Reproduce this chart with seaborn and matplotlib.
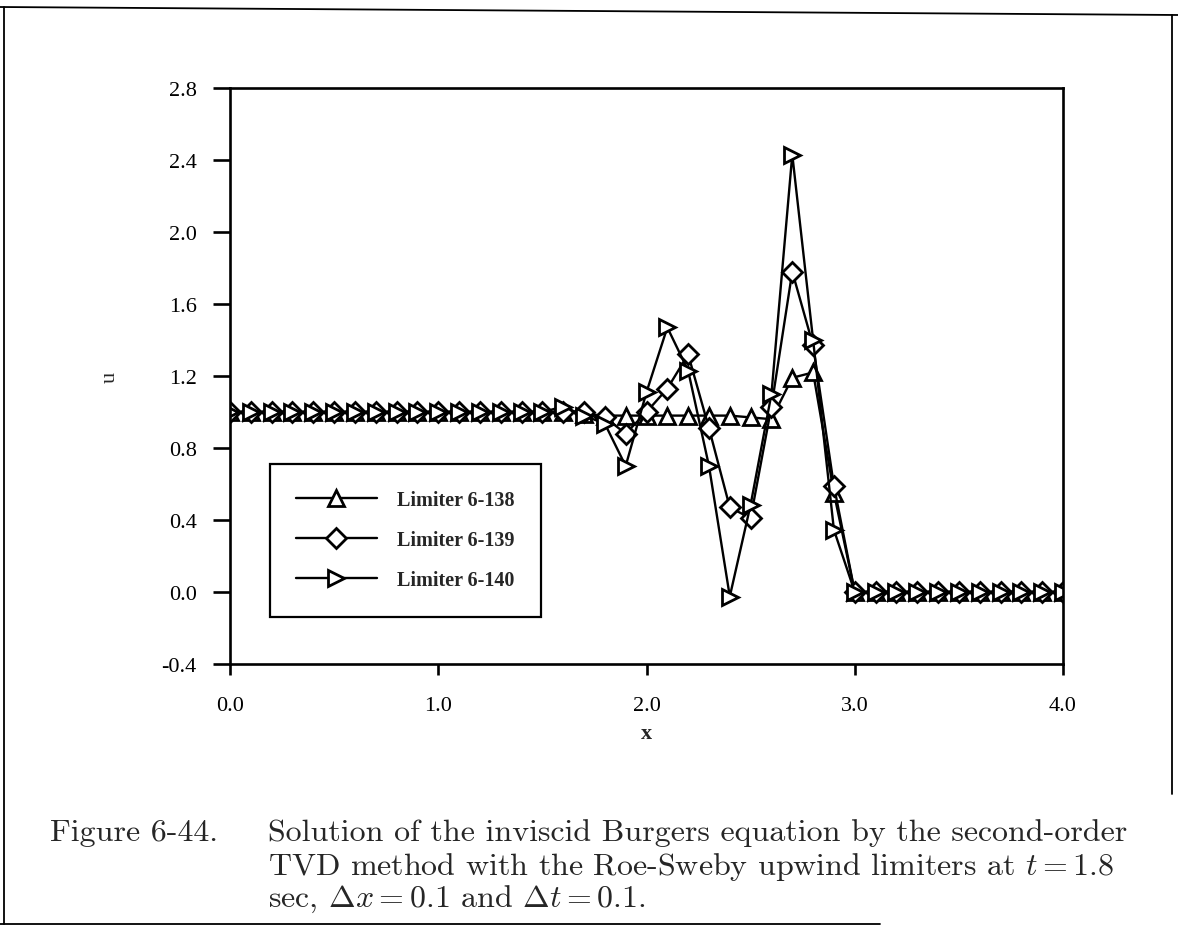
import matplotlib
matplotlib.use("Agg")
import matplotlib.pyplot as plt
import seaborn as sns
import pandas as pd
from matplotlib.lines import Line2D

# ---------------- data ----------------
x_vals = [0.0, 0.1, 0.2, 0.3, 0.4, 0.5, 0.6, 0.7, 0.8, 0.9,
          1.0, 1.1, 1.2, 1.3, 1.4, 1.5, 1.6, 1.7, 1.8, 1.9,
          2.0, 2.1, 2.2, 2.3, 2.4, 2.5, 2.6, 2.7, 2.8, 2.9,
          3.0, 3.1, 3.2, 3.3, 3.4, 3.5, 3.6, 3.7, 3.8, 3.9, 4.0]

u_138 = [1.0, 1.0, 1.0, 1.0, 1.0, 1.0, 1.0, 1.0, 1.0, 1.0,
         1.0, 1.0, 1.0, 1.0, 1.0, 1.0, 1.0, 0.99, 0.98, 0.98,
         0.98, 0.98, 0.98, 0.98, 0.98, 0.97, 0.96, 1.19, 1.22, 0.55,
         0.0, 0.0, 0.0, 0.0, 0.0, 0.0, 0.0, 0.0, 0.0, 0.0, 0.0]

u_139 = [1.0, 1.0, 1.0, 1.0, 1.0, 1.0, 1.0, 1.0, 1.0, 1.0,
         1.0, 1.0, 1.0, 1.0, 1.0, 1.0, 1.0, 1.0, 0.97, 0.88,
         1.0, 1.13, 1.32, 0.91, 0.47, 0.41, 1.03, 1.78, 1.37, 0.59,
         0.0, 0.0, 0.0, 0.0, 0.0, 0.0, 0.0, 0.0, 0.0, 0.0, 0.0]

u_140 = [1.0, 1.0, 1.0, 1.0, 1.0, 1.0, 1.0, 1.0, 1.0, 1.0,
         1.0, 1.0, 1.0, 1.0, 1.0, 1.0, 1.03, 0.98, 0.935, 0.70,
         1.11, 1.47, 1.23, 0.70, -0.025, 0.485, 1.10, 2.43, 1.40, 0.345,
         0.0, 0.0, 0.0, 0.0, 0.0, 0.0, 0.0, 0.0, 0.0, 0.0, 0.0]

series_labels = ["Limiter 6-138", "Limiter 6-139", "Limiter 6-140"]
series_markers = ["^", "D", ">"]

x_ticks = [0.0, 1.0, 2.0, 3.0, 4.0]
x_ticklabels = ["0.0", "1.0", "2.0", "3.0", "4.0"]
y_ticks = [-0.4, 0.0, 0.4, 0.8, 1.2, 1.6, 2.0, 2.4, 2.8]
y_ticklabels = ["-0.4", "0.0", "0.4", "0.8", "1.2", "1.6", "2.0", "2.4", "2.8"]

caption_head = "Figure 6-44."
caption_lines = [
    "Solution of the inviscid Burgers equation by the second-order",
    "TVD method with the Roe-Sweby upwind limiters at $t = 1.8$",
    "sec, $\\Delta x = 0.1$ and $\\Delta t = 0.1$.",
]

# ---------------- style ----------------
sns.set_style("ticks")
plt.rcParams["font.family"] = ["Liberation Serif", "DejaVu Serif"]
plt.rcParams["mathtext.fontset"] = "cm"

W, H = 1178, 928
fig = plt.figure(figsize=(W / 100, H / 100), dpi=100)
ax = fig.add_axes([230 / W, 1 - 665 / H, (1063 - 230) / W, (665 - 89) / H])

df = pd.DataFrame({
    "x": x_vals * 3,
    "u": u_138 + u_139 + u_140,
    "series": [series_labels[0]] * len(x_vals) + [series_labels[1]] * len(x_vals)
              + [series_labels[2]] * len(x_vals),
})

sizes = [12, 10, 12]
for lab, mk, ms in zip(series_labels, series_markers, sizes):
    sub = df[df["series"] == lab]
    sns.lineplot(data=sub, x="x", y="u", ax=ax, color="black", marker=mk,
                 markersize=ms, markerfacecolor="white", markeredgecolor="black",
                 markeredgewidth=2.0, linewidth=1.7, sort=False, legend=False,
                 estimator=None)

ax.set_xlim(0, 4)
ax.set_ylim(-0.4, 2.8)
ax.set_xticks(x_ticks)
ax.set_xticklabels(x_ticklabels)
ax.set_yticks(y_ticks)
ax.set_yticklabels(y_ticklabels)
for s in ax.spines.values():
    s.set_visible(True)
    s.set_linewidth(1.9)
    s.set_color("black")
ax.tick_params(axis="y", direction="out", length=12, width=1.9, pad=12,
               labelsize=16, colors="black")
ax.tick_params(axis="x", direction="out", length=8, width=1.9, pad=15,
               labelsize=16, colors="black")
ax.set_xlabel("x", fontsize=16, fontweight="bold", labelpad=6)
ax.set_ylabel("u", fontsize=16, labelpad=30)

handles = [Line2D([], [], color="black", linewidth=1.7, marker=m, markersize=s,
                  markerfacecolor="white", markeredgecolor="black",
                  markeredgewidth=2.0)
           for m, s in zip(series_markers, sizes)]
leg = ax.legend(handles, series_labels, loc="upper left",
                bbox_to_anchor=(40 / 833, 200 / 576), borderaxespad=0,
                prop={"family": ["Liberation Serif"], "weight": "bold", "size": 14.5},
                handlelength=4.0, handletextpad=1.0, labelspacing=1.0,
                borderpad=1.3, fancybox=False, framealpha=1, edgecolor="black")
leg.get_frame().set_linewidth(1.6)

# caption
cap_fam = ["cmr10", "DejaVu Serif"]
cap_fs = 23
cap_y = [833, 867, 899]
fig.text(50 / W, 1 - cap_y[0] / H, caption_head, fontsize=cap_fs, family=cap_fam,
         va="center", ha="left")
for line, yy in zip(caption_lines, cap_y):
    fig.text(268 / W, 1 - yy / H, line, fontsize=cap_fs, family=cap_fam,
             va="center", ha="left")

# outer frame of the scanned page
frame_kw = dict(color="black", linewidth=1.3, transform=fig.transFigure)
fig.add_artist(Line2D([0, 1], [1 - 8 / H, 1 - 16 / H], **frame_kw))
fig.add_artist(Line2D([4 / W, 4 / W], [1 - 8 / H, 1 - 925 / H], **frame_kw))
fig.add_artist(Line2D([0, 880 / W], [1 - 925 / H, 1 - 925 / H], **frame_kw))
fig.add_artist(Line2D([1172 / W, 1172 / W], [1 - 16 / H, 1 - 795 / H], **frame_kw))

fig.savefig("out.png", dpi=100, facecolor="white")
